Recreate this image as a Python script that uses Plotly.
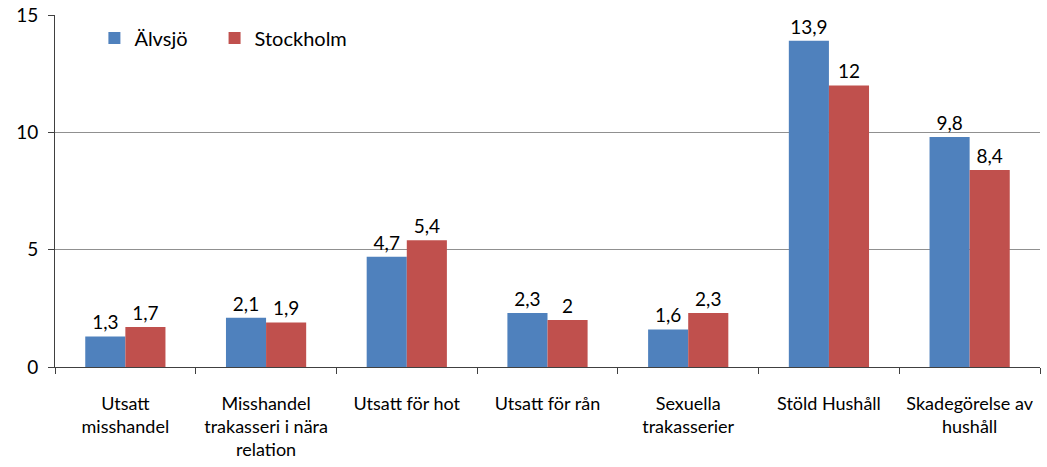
import plotly.graph_objects as go

# data
categories = ['Utsatt<br>misshandel', 'Misshandel<br>trakasseri i nära<br>relation', 'Utsatt för hot',
              'Utsatt för rån', 'Sexuella<br>trakasserier', 'Stöld Hushåll', 'Skadegörelse av<br>hushåll']
alvsjo = [1.3, 2.1, 4.7, 2.3, 1.6, 13.9, 9.8]
stockholm = [1.7, 1.9, 5.4, 2.0, 2.3, 12.0, 8.4]
y_ticks = [0, 5, 10, 15]


def fmt(v):
    # swedish decimal comma, drop trailing ,0
    s = ('%g' % v)
    return s.replace('.', ',')


FONT = 'Lato'

fig = go.Figure()

fig.add_trace(go.Bar(
    x=categories, y=alvsjo, name='Älvsjö',
    marker_color='#4f81bd', marker_line_width=0,
    text=[fmt(v) for v in alvsjo], textposition='outside',
    textfont=dict(size=19, color='black', family=FONT),
    cliponaxis=False, legend='legend'
))

fig.add_trace(go.Bar(
    x=categories, y=stockholm, name='Stockholm',
    marker_color='#c0504d', marker_line_width=0,
    text=[fmt(v) for v in stockholm], textposition='outside',
    textfont=dict(size=19, color='black', family=FONT),
    cliponaxis=False, legend='legend2'
))

leg = dict(orientation='h', y=0.99, xanchor='left', yanchor='top',
           font=dict(size=20, family=FONT), bgcolor='rgba(0,0,0,0)', itemwidth=30)

fig.update_layout(
    width=1047, height=467,
    margin=dict(l=55, r=7, t=15, b=100, autoexpand=False),
    paper_bgcolor='white', plot_bgcolor='white',
    barmode='group', bargap=0.43, bargroupgap=0,
    font=dict(family=FONT, color='black'),
    showlegend=True,
    legend=dict(leg, x=0.04),
    legend2=dict(leg, x=0.162),
)

fig.update_xaxes(
    automargin=False,
    showline=True, linecolor='#404040', linewidth=1,
    ticks='outside', tickson='boundaries', ticklen=6, tickcolor='#404040',
    tickfont=dict(size=18, family=FONT), ticklabelstandoff=20,
    showgrid=False
)

fig.update_yaxes(
    automargin=False,
    range=[0, 15], tickvals=y_ticks,
    showline=True, linecolor='#404040', linewidth=1,
    ticks='outside', ticklen=6, tickcolor='#404040',
    tickfont=dict(size=19, family=FONT), ticklabelstandoff=6,
    showgrid=True, gridcolor='#909090', gridwidth=1,
    zeroline=False
)

# drop the default page margin so the figure sits at the window's corner
fig.write_html("out.html", config={'displayModeBar': False},
               post_script="document.body.style.margin='0';")
